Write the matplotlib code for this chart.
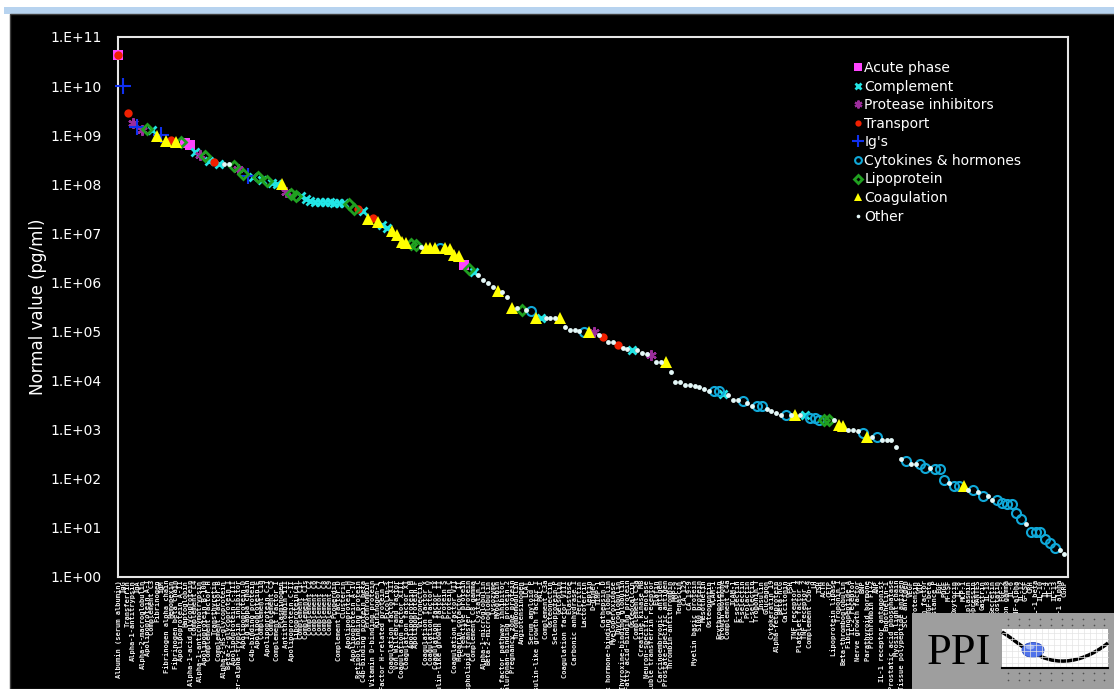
import matplotlib.pyplot as plt
import matplotlib.ticker as mticker
from matplotlib.patches import Rectangle, Ellipse, PathPatch
from matplotlib.path import Path
import numpy as np

# plasma proteins, ordered by normal concentration
proteins = [
    "Albumin (serum albumin)", "IgG", "Transferrin", "Alpha-1-antitrypsin", "IgA",
    "Alpha-2-macroglobulin", "Apolipoprotein A-I", "Complement C3", "Fibrinogen", "IgM",
    "Fibrinogen alpha chain", "Hemopexin", "Fibrinogen beta chain", "Apolipoprotein A-II", "Haptoglobin",
    "Alpha-1-acid glycoprotein", "Complement C4", "Alpha-1-antichymotrypsin", "Apolipoprotein B-100", "Complement factor H",
    "Transthyretin", "Complement factor B", "Alpha-2-HS-glycoprotein", "Beta-2-glycoprotein I", "Apolipoprotein C-III",
    "Inter-alpha-trypsin inhibitor", "Apolipoprotein D", "Ig kappa chain", "C4b-binding protein", "Apolipoprotein E",
    "Complement C1q", "Apolipoprotein C-I", "Complement C5", "Complement factor I", "Plasminogen",
    "Antithrombin III", "Apolipoprotein C-II", "Lipoprotein(a)", "Complement C1r", "Complement C1s",
    "Complement C2", "Complement C6", "Complement C7", "Complement C8", "Complement C9",
    "Properdin", "Complement factor D", "Clusterin", "Apolipoprotein H", "Apolipoprotein A-IV",
    "Retinol-binding protein", "C4b-binding protein beta", "Prothrombin", "Vitamin D-binding protein", "Kininogen-1",
    "Factor H-related protein 1", "Ficolin-3", "Coagulation factor XII", "Von Willebrand factor", "Coagulation factor XIII",
    "Coagulation factor XI", "Apolipoprotein M", "Apolipoprotein F", "Vitronectin", "Coagulation factor X",
    "Coagulation factor V", "Coagulation factor IX", "Insulin-like growth factor II", "Protein S", "Protein C",
    "Coagulation factor VII", "Heparin cofactor II", "C-reactive protein", "Phospholipid transfer protein", "Complement C8 gamma",
    "Cystatin C", "Alpha-1-microglobulin", "Beta-2-microglobulin", "Lysozyme", "Myoglobin",
    "Tissue factor pathway inhibitor", "Hyaluronan-binding protein 2", "Pregnancy zone protein", "Thrombomodulin", "Angiotensinogen",
    "LCAT", "Serum amyloid P", "Insulin-like growth factor I", "PAI-1", "Complement C3a",
    "Osteonectin", "Selenoprotein P", "Gelsolin", "Coagulation factor VIII", "Elastase",
    "Carbonic anhydrase I", "Ferritin", "Lactoferrin", "Leptin", "D-dimer",
    "TIMP-1", "Cathepsin D", "Sex hormone-binding globulin", "Myeloperoxidase", "Thyroglobulin",
    "Thyroxine-binding globulin", "Fatty acid-binding protein", "Osteocalcin", "Complement C5a", "Creatine kinase MB",
    "Neuron-specific enolase", "Soluble transferrin receptor", "Elafin", "Carcinoembryonic antigen", "Prostate-specific antigen",
    "Thrombin-antithrombin", "MMP-9", "Tenascin", "CA 125", "CA 19-9",
    "Myelin basic protein", "S100 protein", "Mesothelin", "Osteopontin", "VCAM-1",
    "Erythropoietin", "Growth hormone", "Complement C4a", "ICAM-1", "E-selectin",
    "P-selectin", "Prolactin", "L-selectin", "Troponin T", "Insulin",
    "Glucagon", "Cytokeratin 19", "Alpha-fetoprotein", "Beta-hCG", "Calcitonin",
    "FSH", "TNF receptor 1", "Platelet factor 4", "TNF receptor 2", "Complement C5b-9",
    "LH", "TSH", "ACTH", "CETP", "Lipoprotein lipase",
    "Troponin I", "Beta-thromboglobulin", "Fibrinopeptide A", "IL-2 receptor", "Nerve growth factor",
    "BNP", "Parathyroid hormone", "Prothrombin F1+2", "ANP", "IL-1 receptor antagonist",
    "Endothelin-1", "Prostatic acid phosphatase", "Myosin light chain", "Tissue polypeptide antigen", "SCC antigen",
    "VEGF", "Neurotensin", "VIP", "Hepatocyte growth factor", "TGF-beta",
    "Substance P", "EGF", "PDGF", "M-CSF", "Oxytocin",
    "IL-8", "MCP-1", "Plasmin-antiplasmin", "Vasopressin", "RANTES",
    "Gastrin", "IL-18", "Secretin", "Somatostatin", "FGF-2",
    "Interferon gamma", "IL-6", "TNF-alpha", "IL-12", "G-CSF",
    "CRH", "IL-1 beta", "IL-10", "IL-4", "IL-5",
    "IL-13", "IL-1 alpha", "CGRP", "Beta-endorphin",
]

# normal value, pg/ml
values = [
    4.4e10, 1.0e10, 2.8e9, 1.8e9, 1.5e9, 1.3e9, 1.35e9, 1.3e9, 9.6e8, 1.0e9,
    7.6e8, 7.9e8, 7.4e8, 7.3e8, 7.0e8, 6.2e8, 4.6e8, 4.0e8, 3.7e8, 3.0e8,
    2.8e8, 2.6e8, 2.6e8, 2.55e8, 2.4e8, 2.0e8, 1.6e8, 1.5e8, 1.43e8, 1.4e8,
    1.2e8, 1.18e8, 1.08e8, 1.0e8, 9.9e7, 7.1e7, 6.3e7, 5.8e7, 5.7e7, 5.1e7,
    4.6e7, 4.4e7, 4.3e7, 4.3e7, 4.3e7, 4.2e7, 4.2e7, 4.2e7, 4.0e7, 3.2e7,
    3.1e7, 2.9e7, 2.0e7, 2.1e7, 1.7e7, 1.5e7, 1.3e7, 1.1e7, 9.3e6, 6.8e6,
    6.3e6, 6.0e6, 5.8e6, 5.3e6, 5.0e6, 5.0e6, 5.0e6, 5.1e6, 5.0e6, 4.9e6,
    3.6e6, 3.5e6, 2.3e6, 1.9e6, 1.6e6, 1.4e6, 1.1e6, 9.8e5, 8.0e5, 6.6e5,
    6.5e5, 5.1e5, 3.0e5, 3.0e5, 2.7e5, 2.7e5, 2.65e5, 1.9e5, 1.9e5, 1.9e5,
    1.9e5, 1.9e5, 1.85e5, 1.26e5, 1.08e5, 1.08e5, 1.03e5, 1.0e5, 9.8e4, 9.7e4,
    8.5e4, 7.9e4, 6.1e4, 6.0e4, 5.3e4, 4.6e4, 4.5e4, 4.2e4, 4.2e4, 3.6e4,
    3.5e4, 3.4e4, 2.4e4, 2.4e4, 2.4e4, 1.5e4, 9.2e3, 9.2e3, 8.2e3, 8.2e3,
    7.8e3, 7.3e3, 6.7e3, 6.2e3, 6.2e3, 6.1e3, 5.3e3, 5.2e3, 4.0e3, 4.0e3,
    3.8e3, 3.5e3, 3.1e3, 3.0e3, 3.0e3, 2.7e3, 2.45e3, 2.2e3, 2.0e3, 2.0e3,
    2.0e3, 2.0e3, 2.0e3, 1.95e3, 1.77e3, 1.7e3, 1.6e3, 1.55e3, 1.55e3, 1.55e3,
    1.25e3, 1.2e3, 1.0e3, 1.0e3, 9.5e2, 8.7e2, 7.2e2, 7.1e2, 7.0e2, 6.2e2,
    6.2e2, 6.2e2, 4.5e2, 2.5e2, 2.35e2, 2.0e2, 2.0e2, 2.0e2, 1.7e2, 1.65e2,
    1.6e2, 1.6e2, 95, 81, 72, 72, 70, 60, 58, 55,
    45, 44, 37, 37, 32, 31, 31, 20, 15, 12,
    8.2, 8.1, 8.1, 6.0, 5.0, 3.9, 3.6, 2.95,
]

# protein class of each entry
groups = (
    "A I T P I P L C G I G T G L A A C P L C "
    "T C O O L P L I C L C L C C G P L L C C "
    "C C C C C C C C L L T C G T G C C G G G "
    "G L L O G G G Y G G G G A L C O O O O G "
    "O O G O L O Y G C O O O G O O O O Y G P "
    "O T O O T O O C O O O P O O G O O O O O "
    "O O O O Y Y C O O O Y O O Y Y O O O O Y "
    "O G O C Y Y Y L L O G G O O O Y G O Y O "
    "O O O O Y O O Y Y O Y Y Y O Y Y G O Y O "
    "Y O O Y Y Y Y Y Y O Y Y Y Y Y Y O O"
).split()

# albumin is also counted as a transport protein
extra_pos = [0]
extra_grp = ["T"]
extra_val = [4.4e10]

styles = {
    "A": dict(label="Acute phase", marker="s", color="#FF44FF", ms=7, mew=0),
    "C": dict(label="Complement", marker="x", color="#22E5E5", ms=6, mew=2),
    "P": dict(label="Protease inhibitors", marker=(6, 2, 0), color="#9B2D9B", ms=7.5, mew=1.6),
    "T": dict(label="Transport", marker="o", color="#F02000", ms=6, mew=0),
    "I": dict(label="Ig's", marker="+", color="#1030F0", ms=11, mew=1.5),
    "Y": dict(label="Cytokines & hormones", marker="o", color="#10A8D8", mfc="none", ms=6.5, mew=1.5),
    "L": dict(label="Lipoprotein", marker="D", color="#20A020", mfc="none", ms=5, mew=2),
    "G": dict(label="Coagulation", marker="^", color="#FFFF00", ms=8, mew=0),
    "O": dict(label="Other", marker="o", color="#E4F8F8", ms=3.5, mew=0),
}

W, H = 1114, 689
fig = plt.figure(figsize=(W / 100, H / 100), dpi=100, facecolor="white")
fig.patches.append(Rectangle((4 / W, 1 - 14 / H), 1, 7 / H, transform=fig.transFigure,
                             facecolor="#B7D3EF", edgecolor="none", zorder=-2))
fig.patches.append(Rectangle((10 / W, 0), 1, 1 - 14 / H, transform=fig.transFigure,
                             facecolor="black", edgecolor="#404040", lw=1, zorder=-2))

ax = fig.add_axes([118 / W, 1 - 577 / H, 950 / W, 540 / H])
ax.set_facecolor("black")

n = min(len(values), len(groups), len(proteins))
x = np.arange(n)
vals = np.array(values[:n])
grp = np.array(groups[:n])
ex = np.array(extra_pos)
ev = np.array(extra_val)
eg = np.array(extra_grp)

for z, (code, st) in enumerate(styles.items()):
    st = dict(st)
    label = st.pop("label")
    xs = np.concatenate([x[grp == code], ex[eg == code]])
    ys = np.concatenate([vals[grp == code], ev[eg == code]])
    ax.plot(xs, ys, linestyle="none", label=label, zorder=3 + z, clip_on=False, **st)

ax.set_yscale("log")
ax.set_ylim(1, 1e11)
ax.set_xlim(-0.05, n - 0.25)
ax.yaxis.set_major_locator(mticker.LogLocator(base=10, numticks=20))
ax.yaxis.set_minor_locator(mticker.NullLocator())
ax.yaxis.set_major_formatter(mticker.FuncFormatter(lambda v, p: "1.E+%02d" % round(np.log10(v))))
ax.tick_params(axis="y", length=0, pad=12, labelcolor="white", labelsize=10)

ax.set_xticks(x)
ax.set_xticklabels(proteins[:n], rotation=90, fontsize=5, family="DejaVu Sans Mono",
                   fontweight="bold", color="#F0F0F0")
ax.tick_params(axis="x", length=0, pad=2)

for s in ax.spines.values():
    s.set_color("#E6E6E6")
    s.set_linewidth(1.5)

ax.set_ylabel("Normal value (pg/ml)", color="white", fontsize=12)
ax.yaxis.set_label_coords(-0.075, 0.5)

leg = ax.legend(loc="upper left", bbox_to_anchor=(845 / W, 1 - 54 / H), bbox_transform=fig.transFigure,
                frameon=False, fontsize=10, markerscale=0.75, handlelength=0.8, handletextpad=0.1,
                labelspacing=0.33, borderpad=0)
for t in leg.get_texts():
    t.set_color("white")

# PPI logo in the lower right corner
logo = fig.add_axes([912 / W, 0, 202 / W, 76 / H])
logo.set_xlim(912, 1114)
logo.set_ylim(689, 613)
logo.axis("off")
logo.add_patch(Rectangle((912, 613), 202, 76, facecolor="#9E9E9E", edgecolor="none"))
logo.text(927, 664, "PPI", family="Liberation Serif", fontsize=32, color="black", va="baseline")
logo.add_patch(Rectangle((1002, 629), 106, 39, facecolor="white", edgecolor="none"))
for gx in np.arange(1006, 1108, 6):
    logo.plot([gx, gx], [629, 668], color="#E4E4E4", lw=0.5)
for gy in np.arange(633, 668, 6):
    logo.plot([1002, 1108], [gy, gy], color="#E4E4E4", lw=0.5)
logo.plot([1002, 1108], [667.5, 667.5], color="black", lw=1.5)
curve = Path([(1002, 632), (1015, 640), (1022, 648), (1033, 652),
              (1050, 664), (1078, 667), (1108, 643)],
             [Path.MOVETO, Path.CURVE4, Path.CURVE4, Path.CURVE4,
              Path.CURVE4, Path.CURVE4, Path.CURVE4])
logo.add_patch(PathPatch(curve, facecolor="none", edgecolor="black", lw=2.5))
logo.add_patch(Ellipse((1033, 650), 22, 15, facecolor="#4F72EA", edgecolor="#2F4FC0", lw=0.6))
logo.add_patch(Ellipse((1030, 647), 9, 5, facecolor="#9AB2F8", edgecolor="none"))
for dy in (619, 625, 673, 680):
    dx = np.arange(1008, 1110, 10.7)
    logo.plot(dx, np.full_like(dx, dy), "o", ms=1.2, color="#505050", mew=0)

fig.savefig("out.png", dpi=100, facecolor=fig.get_facecolor())
